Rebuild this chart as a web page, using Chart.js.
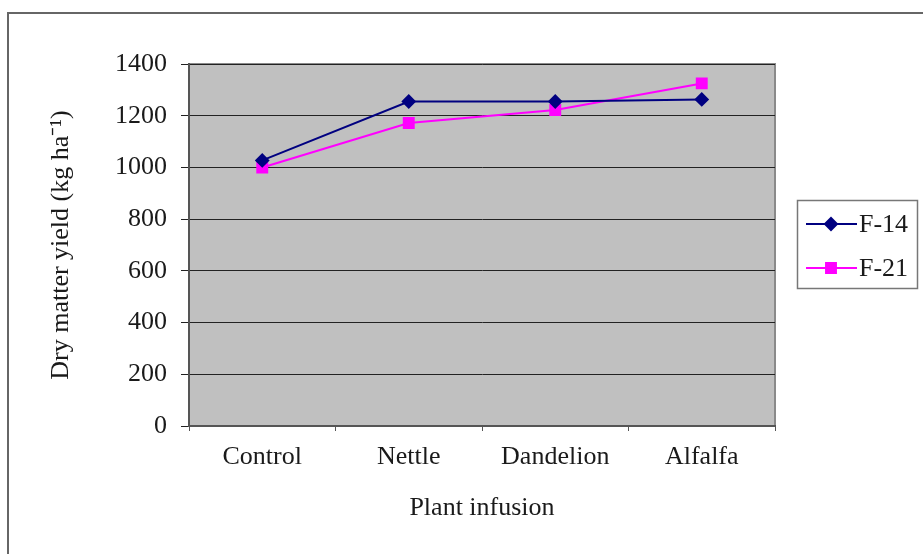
<!DOCTYPE html>
<html>
<head>
<meta charset="utf-8">
<script src="https://cdn.jsdelivr.net/npm/chart.js@4"></script>
<style>
  body { margin: 0; background: #fff; }
  #grafico { display: block; }
</style>
</head>
<body>
<canvas id="grafico" width="923" height="554"></canvas>
<script>
// dados
const categorias = ["Control", "Nettle", "Dandelion", "Alfalfa"];
const serieF14 = [1027, 1255, 1255, 1263];
const serieF21 = [1000, 1172, 1222, 1325];
const nomesSeries = ["F-14", "F-21"];
const ticksY = [0, 200, 400, 600, 800, 1000, 1200, 1400];

const fonte = "'Liberation Serif', 'Times New Roman', serif";
const tamFonte = 26;

// fundo cinza da area do grafico + moldura externa + legenda desenhada a mao
const fundoEMoldura = {
  id: "fundoEMoldura",
  beforeDraw(chart) {
    const { ctx, chartArea: a } = chart;
    ctx.save();
    ctx.fillStyle = "#fff";
    ctx.fillRect(0, 0, chart.width, chart.height);
    ctx.strokeStyle = "#666";
    ctx.lineWidth = 2;
    ctx.strokeRect(8, 13, 1000, 1000);
    ctx.fillStyle = "#c0c0c0";
    ctx.fillRect(a.left, a.top, a.right - a.left, a.bottom - a.top);
    ctx.strokeStyle = "#8a8a8a";
    ctx.lineWidth = 2;
    ctx.beginPath();
    ctx.moveTo(a.left, a.top);
    ctx.lineTo(a.right, a.top);
    ctx.lineTo(a.right, a.bottom);
    ctx.stroke();
    ctx.restore();
  },
  afterDraw(chart) {
    const { ctx } = chart;
    ctx.save();
    ctx.strokeStyle = "#777";
    ctx.lineWidth = 1.5;
    ctx.strokeRect(797.5, 200.5, 120, 88);
    chart.data.datasets.forEach((ds, i) => {
      const y = 224 + i * 44;
      ctx.strokeStyle = ds.borderColor;
      ctx.lineWidth = 2;
      ctx.beginPath();
      ctx.moveTo(806, y);
      ctx.lineTo(857, y);
      ctx.stroke();
      Chart.helpers.drawPoint(ctx, {
        pointStyle: ds.pointStyle,
        radius: ds.pointRadius,
        borderWidth: 1
      }, 831, y);
      ctx.fillStyle = ds.pointBackgroundColor;
      ctx.fill();
      ctx.fillStyle = "#1a1a1a";
      ctx.font = tamFonte + "px " + fonte;
      ctx.textBaseline = "middle";
      ctx.fillText(ds.label, 859, y + 1);
    });
    ctx.restore();
  }
};

new Chart(document.getElementById("grafico"), {
  type: "line",
  data: {
    labels: categorias,
    datasets: [
      {
        label: nomesSeries[0],
        data: serieF14,
        borderColor: "#000080",
        backgroundColor: "#000080",
        pointBackgroundColor: "#000080",
        pointBorderColor: "#000080",
        borderWidth: 2,
        pointStyle: "rectRot",
        pointRadius: 6,
        pointHoverRadius: 6,
        tension: 0
      },
      {
        label: nomesSeries[1],
        data: serieF21,
        borderColor: "#ff00ff",
        backgroundColor: "#ff00ff",
        pointBackgroundColor: "#ff00ff",
        pointBorderColor: "#ff00ff",
        borderWidth: 2,
        pointStyle: "rect",
        pointRadius: 7,
        pointHoverRadius: 7,
        tension: 0
      }
    ]
  },
  options: {
    responsive: false,
    animation: false,
    layout: { padding: { top: 64, right: 148, left: 0, bottom: 0 } },
    plugins: {
      legend: { display: false },
      tooltip: { enabled: false }
    },
    scales: {
      x: {
        offset: true,
        grid: { offset: true, drawOnChartArea: false, drawTicks: true, tickLength: 5, color: "#555", lineWidth: 1 },
        border: { color: "#555", width: 2 },
        ticks: { color: "#1a1a1a", font: { family: fonte, size: tamFonte }, padding: 11, maxRotation: 0 },
        title: { display: true, text: "Plant infusion", color: "#1a1a1a", font: { family: fonte, size: tamFonte }, padding: { top: 0, bottom: 30 } },
        afterFit: s => { s.height = 128; }
      },
      y: {
        min: 0,
        max: 1400,
        afterBuildTicks: s => { s.ticks = ticksY.map(v => ({ value: v })); },
        grid: { color: "#222", lineWidth: 1, tickLength: 8 },
        border: { color: "#555", width: 2 },
        ticks: { color: "#1a1a1a", font: { family: fonte, size: tamFonte }, padding: 14, callback: v => String(v) },
        title: { display: true, text: "Dry matter yield (kg ha⁻¹)", color: "#1a1a1a", font: { family: fonte, size: tamFonte }, padding: { top: 46, bottom: 0 } },
        afterFit: s => { s.width = 189; }
      }
    }
  },
  plugins: [fundoEMoldura]
});
</script>
</body>
</html>
